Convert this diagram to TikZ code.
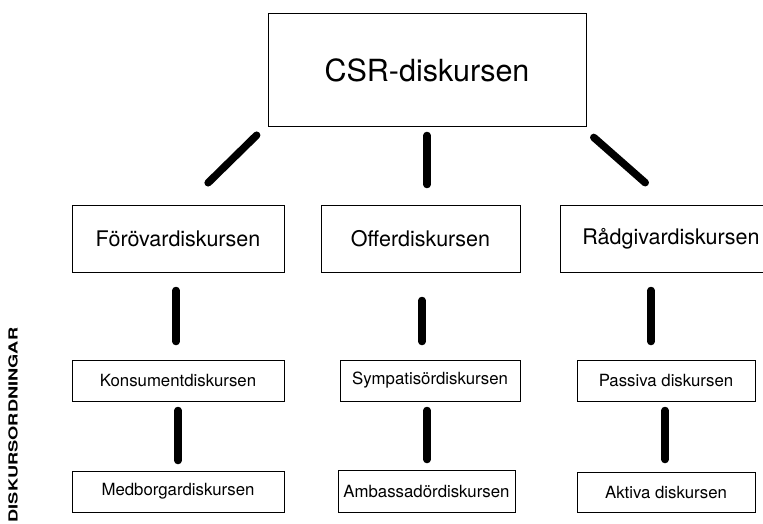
\documentclass[tikz,border=0pt]{standalone}
\usepackage{fontspec}
\setmainfont{TeX Gyre Heros}
\usepackage{graphicx}

\begin{document}
\begin{tikzpicture}[x=1pt,y=-1pt,
    box/.style={draw,line width=1pt,inner sep=0pt,align=center},
    brush/.style={line width=7.5pt,line cap=round}]
 		\useasboundingbox (0,0) rectangle (763,524);
 		\clip (0,0) rectangle (763,524);
 		
 		\node[box,minimum width=318pt,minimum height=113pt,font=\fontsize{30.5}{36}\selectfont] (A) at (427,70.5) {CSR-diskursen};
 		
 		\node[box,minimum width=212pt,minimum height=67pt,font=\fontsize{21.5}{26}\selectfont] (B) at (178,238.5) {Förövardiskursen};
 		\node[box,minimum width=199pt,minimum height=67pt,font=\fontsize{21.5}{26}\selectfont] (C) at (420.5,238.5) {Offerdiskursen};
 		\node[box,minimum width=222pt,minimum height=67pt,font=\fontsize{21.5}{26}\selectfont] (D) at (671,238.5) {Rådgivardiskursen};
 		
 		\node[box,minimum width=212pt,minimum height=41pt,font=\fontsize{16.8}{20}\selectfont] (E) at (178,380.5) {Konsumentdiskursen};
 		\node[box,minimum width=180pt,minimum height=41pt,font=\fontsize{16.8}{20}\selectfont] (F) at (430,380.5) {Sympatisördiskursen};
 		\node[box,minimum width=178pt,minimum height=41pt,font=\fontsize{16.8}{20}\selectfont] (G) at (666,380.5) {Passiva diskursen};
 		
 		\node[box,minimum width=212pt,minimum height=41pt,font=\fontsize{16.8}{20}\selectfont] (H) at (178,491.5) {Medborgardiskursen};
 		\node[box,minimum width=177pt,minimum height=42pt,font=\fontsize{16.8}{20}\selectfont] (I) at (426.5,491) {Ambassadördiskursen};
 		\node[box,minimum width=178pt,minimum height=40pt,font=\fontsize{16.8}{20}\selectfont] (J) at (666,492) {Aktiva diskursen};
 		
 		\node[rotate=90,font=\bfseries\fontsize{12.5}{14}\selectfont] (K) at (13,425) {\scalebox{1.46}[1]{DISKURSORDNINGAR}};
 		
 		\draw[brush,shorten <=11pt,shorten >=31pt] ([xshift=-3pt]A.south west) -- ([xshift=8pt]B.north);
 		\draw[brush,shorten <=8pt,shorten >=20pt] (A.south) -- ([xshift=6.5pt]C.north);
 		\draw[brush,shorten <=15pt,shorten >=33pt] ([xshift=-4pt]A.south east) -- ([xshift=-1pt]D.north);
 		
 		\draw[brush,shorten <=18pt,shorten >=18pt] ([xshift=-2pt]B.south) -- ([xshift=-2pt]E.north);
 		\draw[brush,shorten <=28pt,shorten >=18pt] ([xshift=1.5pt]C.south) -- ([xshift=-8pt]F.north);
 		\draw[brush,shorten <=18pt,shorten >=18pt] ([xshift=-20pt]D.south) -- ([xshift=-15pt]G.north);
 		
 		\draw[brush,shorten <=9pt,shorten >=10pt] (E.south) -- (H.north);
 		\draw[brush,shorten <=9pt,shorten >=10pt] ([xshift=-3pt]F.south) -- ([xshift=0.5pt]I.north);
 		\draw[brush,shorten <=9pt,shorten >=12pt] ([xshift=-1pt]G.south) -- ([xshift=-1pt]J.north);
 		
 	\end{tikzpicture}
\end{document}
